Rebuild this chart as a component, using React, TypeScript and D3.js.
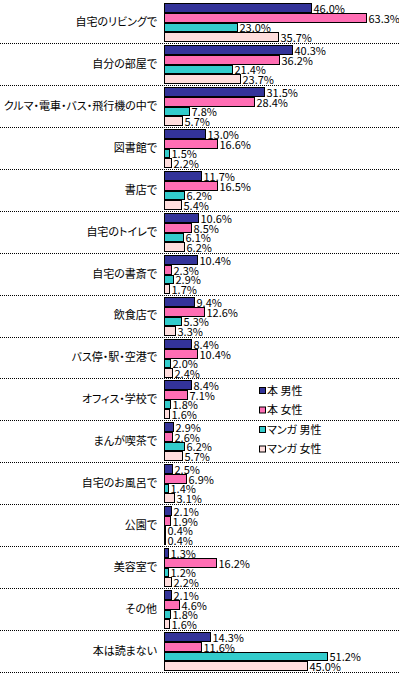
import React, { useEffect, useRef } from "react";
import * as d3 from "d3";

const categories = [
    "自宅のリビングで",
    "自分の部屋で",
    "クルマ・電車・バス・飛行機の中で",
    "図書館で",
    "書店で",
    "自宅のトイレで",
    "自宅の書斎で",
    "飲食店で",
    "バス停・駅・空港で",
    "オフィス・学校で",
    "まんが喫茶で",
    "自宅のお風呂で",
    "公園で",
    "美容室で",
    "その他",
    "本は読まない",
];

const seriesNames = ["本 男性", "本 女性", "マンガ 男性", "マンガ 女性"];

const bookMale = [46.0, 40.3, 31.5, 13.0, 11.7, 10.6, 10.4, 9.4, 8.4, 8.4, 2.9, 2.5, 2.1, 1.3, 2.1, 14.3];
const bookFemale = [63.3, 36.2, 28.4, 16.6, 16.5, 8.5, 2.3, 12.6, 10.4, 7.1, 2.6, 6.9, 1.9, 16.2, 4.6, 11.6];
const mangaMale = [23.0, 21.4, 7.8, 1.5, 6.2, 6.1, 2.9, 5.3, 2.0, 1.8, 6.2, 1.4, 0.4, 1.2, 1.8, 51.2];
const mangaFemale = [35.7, 23.7, 5.7, 2.2, 5.4, 6.2, 1.7, 3.3, 2.4, 1.6, 5.7, 3.1, 0.4, 2.2, 1.6, 45.0];

const colors = ["#333399", "#FF6EB4", "#33CCCC", "#FFDDDD"];

const WIDTH = 399;
const HEIGHT = 673;
const FONT = "'Noto Sans CJK JP', sans-serif";

const App: React.FC = () => {
    const svgRef = useRef<SVGSVGElement>(null);

    useEffect(() => {
        if (!svgRef.current) return;
        const svg = d3.select(svgRef.current);
        svg.selectAll("*").remove();

        const allSeries = [bookMale, bookFemale, mangaMale, mangaFemale];

        const x = d3.scaleLinear().domain([0, 70]).range([164, 387]);
        const y = d3.scaleBand<string>()
            .domain(categories)
            .range([1, 672]);
        const inner = d3.scaleBand<number>()
            .domain([0, 1, 2, 3])
            .range([2, 41]);

        // dotted separators under each category
        svg.append("g")
            .selectAll("line")
            .data(categories)
            .join("line")
            .attr("x1", 0)
            .attr("x2", WIDTH)
            .attr("y1", (d) => Math.round(y(d)! + y.bandwidth()) + 0.5)
            .attr("y2", (d) => Math.round(y(d)! + y.bandwidth()) + 0.5)
            .attr("stroke", "#000")
            .attr("stroke-width", 1)
            .attr("stroke-dasharray", "1,1");

        // category labels
        svg.append("g")
            .selectAll("text")
            .data(categories)
            .join("text")
            .attr("x", 157)
            .attr("y", (d) => y(d)! + y.bandwidth() / 2)
            .attr("dy", "0.36em")
            .attr("text-anchor", "end")
            .style("font-family", FONT)
            .style("font-size", "11px")
            .style("font-feature-settings", "'palt'")
            .text((d) => d);

        const groups = svg.append("g")
            .selectAll("g")
            .data(categories)
            .join("g")
            .attr("transform", (d) => `translate(0,${Math.round(y(d)!)})`);

        allSeries.forEach((vals, s) => {
            const top = Math.round(inner(s)!);
            const h = Math.round(inner(s)! + inner.bandwidth()) - top - 1;
            groups.append("rect")
                .attr("x", x(0) + 0.5)
                .attr("y", top + 0.5)
                .attr("width", (_d, i) => Math.max(0, Math.round(x(vals[i]) - x(0))))
                .attr("height", h)
                .attr("fill", colors[s])
                .attr("stroke", "#000")
                .attr("stroke-width", 1);

            groups.append("text")
                .attr("x", (_d, i) => Math.round(x(vals[i])) + 2.5)
                .attr("y", top + h + 1)
                .style("font-family", FONT)
                .style("font-size", "11px")
                .text((_d, i) => `${vals[i].toFixed(1)}%`);
        });

        // legend
        const legend = svg.append("g")
            .selectAll("g")
            .data(seriesNames)
            .join("g")
            .attr("transform", (_d, i) => `translate(259,${391 + i * 19.5})`);

        legend.append("rect")
            .attr("x", 0.5)
            .attr("y", -3.5)
            .attr("width", 6)
            .attr("height", 6)
            .attr("fill", (_d, i) => colors[i])
            .attr("stroke", "#000");

        legend.append("text")
            .attr("x", 8)
            .attr("y", 0)
            .attr("dy", "0.36em")
            .style("font-family", FONT)
            .style("font-size", "11px")
            .style("font-feature-settings", "'palt'")
            .text((d) => d);
    }, []);

    return (
        <svg
            ref={svgRef}
            width={WIDTH}
            height={HEIGHT}
            style={{ position: "absolute", left: 0, top: 0, background: "#fff" }}
        />
    );
};

export default App;
